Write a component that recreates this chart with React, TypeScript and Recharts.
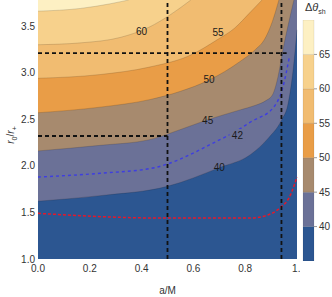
import {
  ComposedChart,
  Area,
  Line,
  Scatter,
  XAxis,
  YAxis,
  CartesianGrid,
  ReferenceLine,
  BarChart,
  Bar,
} from 'recharts'

// contour lines of the shadow angle as (a/M, r0/r+)
const c40 = [
  { a: 0, r: 1.62 }, { a: 0.24, r: 1.68 }, { a: 0.5, r: 1.78 }, { a: 0.7, r: 1.98 },
  { a: 0.82, r: 2.12 }, { a: 0.89, r: 2.3 }, { a: 0.94, r: 2.49 }, { a: 0.965, r: 2.66 },
  { a: 0.985, r: 3.03 }, { a: 1.0, r: 3.46 },
]
const c45 = [
  { a: 0, r: 2.16 }, { a: 0.24, r: 2.22 }, { a: 0.43, r: 2.28 }, { a: 0.5, r: 2.34 },
  { a: 0.65, r: 2.49 }, { a: 0.78, r: 2.6 }, { a: 0.84, r: 2.65 }, { a: 0.88, r: 2.7 },
  { a: 0.905, r: 2.76 }, { a: 0.927, r: 2.96 }, { a: 0.946, r: 3.25 }, { a: 0.969, r: 3.55 },
  { a: 0.988, r: 3.78 },
]
const c50 = [
  { a: 0, r: 2.57 }, { a: 0.24, r: 2.63 }, { a: 0.43, r: 2.71 }, { a: 0.55, r: 2.8 },
  { a: 0.66, r: 2.92 }, { a: 0.78, r: 3.12 }, { a: 0.84, r: 3.25 }, { a: 0.873, r: 3.35 },
  { a: 0.905, r: 3.55 }, { a: 0.93, r: 3.78 },
]
const c55 = [
  { a: 0, r: 2.94 }, { a: 0.24, r: 2.98 }, { a: 0.43, r: 3.06 }, { a: 0.59, r: 3.19 },
  { a: 0.69, r: 3.35 }, { a: 0.76, r: 3.48 }, { a: 0.82, r: 3.65 }, { a: 0.865, r: 3.78 },
]
const c60 = [
  { a: 0, r: 3.3 }, { a: 0.165, r: 3.32 }, { a: 0.32, r: 3.38 }, { a: 0.43, r: 3.49 },
  { a: 0.51, r: 3.62 }, { a: 0.59, r: 3.78 },
]
const c65 = [
  { a: 0, r: 3.66 }, { a: 0.165, r: 3.69 }, { a: 0.28, r: 3.74 }, { a: 0.35, r: 3.78 },
]

// dashed curves: blue = 42 level, red = lower bound
const blueCurve = [
  { a: 0, r: 1.88 }, { a: 0.24, r: 1.92 }, { a: 0.45, r: 1.98 }, { a: 0.5, r: 2.02 },
  { a: 0.68, r: 2.25 }, { a: 0.77, r: 2.38 }, { a: 0.82, r: 2.47 }, { a: 0.91, r: 2.63 },
  { a: 0.945, r: 2.84 }, { a: 0.97, r: 3.16 },
]
const redCurve = [
  { a: 0, r: 1.49 }, { a: 0.47, r: 1.44 }, { a: 0.82, r: 1.44 }, { a: 0.885, r: 1.47 },
  { a: 0.935, r: 1.55 }, { a: 0.97, r: 1.66 }, { a: 1.0, r: 1.88 },
]

const contourLabels = [
  { a: 0.4, r: 3.44, text: '60' },
  { a: 0.695, r: 3.43, text: '55' },
  { a: 0.66, r: 2.93, text: '50' },
  { a: 0.655, r: 2.49, text: '45' },
  { a: 0.77, r: 2.33, text: '42', bg: true },
  { a: 0.7, r: 1.98, text: '40' },
]

// black dashed guides
const guideA = [0.5, 0.94]
const guideR = [3.21, 2.32]
const guideREnd = [0.96, 0.5]

const contours = [c40, c45, c50, c55, c60, c65]
const bandColors = ['#2C5691', '#6B7197', '#A78A6E', '#E99D47', '#F1BC71', '#F7D18C', '#FDF0C3']

const xTicks = [0, 0.2, 0.4, 0.6, 0.8, 1]
const yTicks = [1, 1.5, 2, 2.5, 3, 3.5]
const barLevels = [35, 40, 45, 50, 55, 60, 65, 70]
const barTicks = [40, 45, 50, 55, 60, 65]

const font = '"Liberation Sans", Arial, sans-serif'

// colour bar: invisible base up to the first level, then one segment per band
const barRow: Record<string, number | string> = { name: 'bar', base: barLevels[0] }
barLevels.slice(1).forEach((v, i) => {
  barRow['b' + i] = v - barLevels[i]
})

const renderLabel = (props: any) => {
  const { cx, cy, payload } = props
  return (
    <g>
      {payload.bg && <rect x={cx - 8} y={cy - 6} width={16} height={12} fill={bandColors[1]} />}
      <text
        x={cx}
        y={cy}
        textAnchor="middle"
        dominantBaseline="central"
        fontSize={10}
        fontFamily={font}
        fill="#1a1a1a"
      >
        {payload.text}
      </text>
    </g>
  )
}

export default function App() {
  return (
    <div style={{ position: 'absolute', left: 0, top: 0, width: 332, height: 297, background: '#fff', fontFamily: font }}>
      <ComposedChart width={300} height={297} margin={{ top: 0, right: 3, bottom: 0, left: 0 }}>
        <CartesianGrid fill={bandColors[0]} stroke="none" horizontal={false} vertical={false} />
        <XAxis
          type="number"
          dataKey="a"
          domain={[0, 1]}
          ticks={xTicks}
          tickFormatter={(v: number) => (v === 1 ? '1.' : v.toFixed(1))}
          height={38}
          tickLine={false}
          axisLine={false}
          tickSize={4}
          tickMargin={2}
          tick={{ fontSize: 10, fill: '#333', fontFamily: font }}
          label={{ value: 'a/M', position: 'insideBottom', offset: 3, fontSize: 10, fill: '#333', fontFamily: font }}
        />
        <YAxis
          type="number"
          dataKey="r"
          domain={[1, 3.78]}
          allowDataOverflow
          ticks={yTicks}
          tickFormatter={(v: number) => v.toFixed(1)}
          width={38}
          tickLine={false}
          axisLine={false}
          tickSize={0}
          tickMargin={3}
          tick={{ fontSize: 10, fill: '#333', fontFamily: font }}
        />
        {contours.map((c, i) => (
          <Area
            key={'c' + i}
            data={c}
            dataKey="r"
            type="monotone"
            baseValue="dataMax"
            fill={bandColors[i + 1]}
            fillOpacity={1}
            stroke="#000"
            strokeOpacity={0.2}
            strokeWidth={0.7}
            isAnimationActive={false}
          />
        ))}
        <Line
          data={blueCurve}
          dataKey="r"
          type="monotone"
          stroke="#3E3EE0"
          strokeWidth={1.4}
          strokeDasharray="3 3"
          dot={false}
          isAnimationActive={false}
        />
        <Line
          data={redCurve}
          dataKey="r"
          type="monotone"
          stroke="#E3192B"
          strokeWidth={1.5}
          strokeDasharray="3 2"
          dot={false}
          isAnimationActive={false}
        />
        {guideA.map((a) => (
          <ReferenceLine key={'v' + a} x={a} stroke="#111" strokeWidth={1.8} strokeDasharray="4 3" />
        ))}
        {guideR.map((r, i) => (
          <ReferenceLine
            key={'h' + r}
            segment={[{ x: 0, y: r }, { x: guideREnd[i], y: r }]}
            stroke="#111"
            strokeWidth={1.8}
            strokeDasharray="4 3"
          />
        ))}
        <Scatter data={contourLabels} dataKey="r" shape={renderLabel} isAnimationActive={false} />
      </ComposedChart>

      <div style={{ position: 'absolute', left: 300, top: 0 }}>
        <BarChart width={32} height={297} data={[barRow]} margin={{ top: 20, right: 0, bottom: 36, left: 3 }} barCategoryGap={0}>
          <XAxis dataKey="name" hide />
          <YAxis
            orientation="right"
            type="number"
            domain={[35, 70]}
            allowDataOverflow
            ticks={barTicks}
            width={18}
            axisLine={false}
            tickSize={3}
            tickMargin={2}
            tickLine={{ stroke: '#999' }}
            tick={{ fontSize: 10, fill: '#333', fontFamily: font }}
          />
          <Bar dataKey="base" stackId="s" fill="none" isAnimationActive={false} />
          {barLevels.slice(1).map((_, i) => (
            <Bar
              key={'b' + i}
              dataKey={'b' + i}
              stackId="s"
              fill={bandColors[i]}
              stroke="#000"
              strokeOpacity={0.15}
              strokeWidth={0.5}
              isAnimationActive={false}
            />
          ))}
        </BarChart>
      </div>

      <div
        style={{
          position: 'absolute',
          left: 13,
          top: 135,
          transform: 'translate(-50%, -50%) rotate(-90deg)',
          fontSize: 10,
          color: '#333',
          whiteSpace: 'nowrap',
          lineHeight: '10px',
        }}
      >
        <i>r</i>
        <sub style={{ fontSize: 7 }}>0</sub>/<i>r</i>
        <sub style={{ fontSize: 7 }}>+</sub>
      </div>

      <div
        style={{
          position: 'absolute',
          left: 305,
          top: 1,
          fontSize: 11,
          color: '#333',
          whiteSpace: 'nowrap',
          lineHeight: '12px',
        }}
      >
        Δ<i>θ</i>
        <sub style={{ fontSize: 7 }}>sh</sub>
      </div>
    </div>
  )
}
